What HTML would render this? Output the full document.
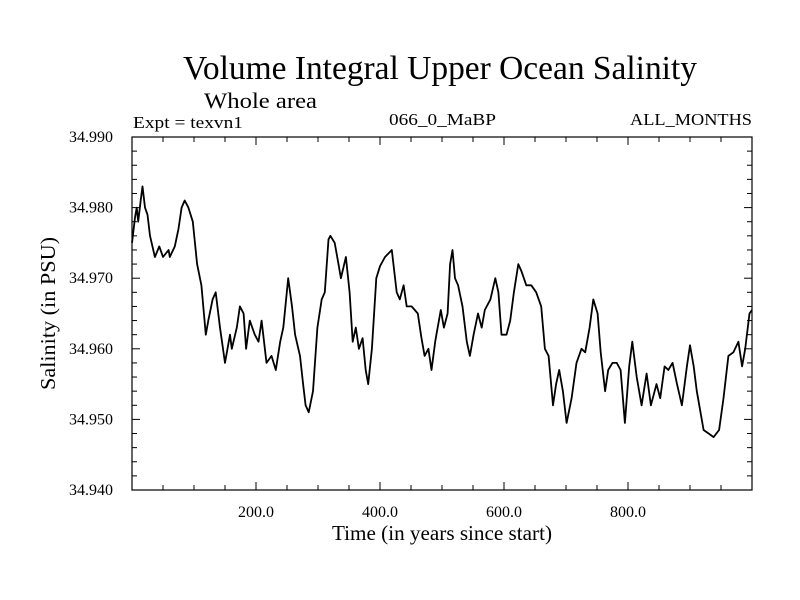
<!DOCTYPE html>
<html><head><meta charset="utf-8"><style>
html,body{margin:0;padding:0;background:#fff;}
svg{display:block;font-family:"Liberation Serif",serif;}
</style></head><body>
<svg id="chart" width="800" height="600" xmlns="http://www.w3.org/2000/svg">
<rect width="800" height="600" fill="#fff"/>
<text x="183" y="79" font-size="34" textLength="514" lengthAdjust="spacingAndGlyphs">Volume Integral Upper Ocean Salinity</text>
<text x="204" y="108" font-size="22" textLength="113" lengthAdjust="spacingAndGlyphs">Whole area</text>
<text x="133" y="128" font-size="17" textLength="110" lengthAdjust="spacingAndGlyphs">Expt = texvn1</text>
<text x="389" y="125" font-size="17" textLength="107" lengthAdjust="spacingAndGlyphs">066_0_MaBP</text>
<text x="630" y="125" font-size="17" textLength="122" lengthAdjust="spacingAndGlyphs">ALL_MONTHS</text>
<text x="332" y="540" font-size="21" textLength="220" lengthAdjust="spacingAndGlyphs">Time (in years since start)</text>
<text transform="translate(55,390) rotate(-90)" font-size="21" textLength="153" lengthAdjust="spacingAndGlyphs">Salinity (in PSU)</text>
<g id="axes"></g>
<g id="series"></g>
</svg>
<script>
const years=[0,5,7.5,10,14,17,21,25,29,37,44,50,59,61,69,75,80,85,91,98,105,112,119,123,130,135,142,150,158,161,169,174,180,184,190,198,204,209,217,225,232,239,244,252,258,263,271,276,280,285,292,299,306,311,317,320,327,333,337,345,351,356,361,366,372,377,381,387,394,400,408,419,427,432,438,443,451,461,467,472,478,483,489,491,498,503,509,513,517,521,526,533,540,545,551,558,564,569,578,586,591,596,604,610,616,623,628,636,644,652,660,666,672,679,684,689,695,701,709,717,725,731,738,744,751,756,763,768,775,782,788,795,802,807,814,822,830,837,846,852,859,865,872,879,887,895,900,906,911,917,922,930,938,947,954,962,970,978,984,989,996,1000];
const salinity=[34.975,34.9787,34.980,34.978,34.981,34.983,34.980,34.979,34.976,34.973,34.9745,34.973,34.974,34.973,34.9745,34.977,34.980,34.981,34.980,34.978,34.972,34.969,34.962,34.964,34.967,34.968,34.963,34.958,34.962,34.960,34.963,34.966,34.965,34.960,34.964,34.962,34.961,34.964,34.958,34.959,34.957,34.961,34.963,34.970,34.966,34.962,34.959,34.955,34.952,34.951,34.954,34.963,34.967,34.968,34.9755,34.976,34.975,34.972,34.970,34.973,34.968,34.961,34.963,34.960,34.9615,34.957,34.955,34.960,34.970,34.9717,34.973,34.974,34.968,34.967,34.969,34.966,34.966,34.965,34.9615,34.959,34.960,34.957,34.961,34.962,34.9655,34.963,34.965,34.972,34.974,34.970,34.969,34.966,34.961,34.959,34.962,34.965,34.963,34.9655,34.967,34.970,34.968,34.962,34.962,34.964,34.968,34.972,34.971,34.969,34.969,34.968,34.966,34.960,34.959,34.952,34.955,34.957,34.954,34.9495,34.953,34.958,34.960,34.9595,34.963,34.967,34.965,34.9595,34.954,34.957,34.958,34.958,34.957,34.9495,34.9575,34.961,34.956,34.952,34.9565,34.952,34.955,34.953,34.9575,34.957,34.958,34.955,34.952,34.9575,34.9605,34.9575,34.954,34.951,34.9485,34.948,34.9475,34.9485,34.953,34.959,34.9595,34.961,34.9575,34.960,34.965,34.9655];
const xTickVals=[200,400,600,800];
const xTickLabels=["200.0","400.0","600.0","800.0"];
const yTickVals=[34.94,34.95,34.96,34.97,34.98,34.99];
const yTickLabels=["34.940","34.950","34.960","34.970","34.980","34.990"];
const X0=132,X1=752,Y0=137,Y1=490;
const xMin=0,xMax=1000,yMin=34.94,yMax=34.99;
const sx=v=>X0+(v-xMin)/(xMax-xMin)*(X1-X0);
const sy=v=>Y1-(v-yMin)/(yMax-yMin)*(Y1-Y0);
const NS="http://www.w3.org/2000/svg";
const axes=document.getElementById('axes');
function mk(tag,attrs,parent){const e=document.createElementNS(NS,tag);for(const k in attrs)e.setAttribute(k,attrs[k]);parent.appendChild(e);return e;}
const frame=mk('rect',{x:X0,y:Y0,width:X1-X0,height:Y1-Y0,fill:'none',stroke:'#000','stroke-width':1.2},axes);


for(let v=50;v<1000;v+=50){
  const len=(v%200===0)?8:5;
  const t1=mk('line',{x1:sx(v),x2:sx(v),y1:Y1,y2:Y1-len,stroke:'#000','stroke-width':1},axes);
  
  
  const t2=mk('line',{x1:sx(v),x2:sx(v),y1:Y0,y2:Y0+len,stroke:'#000','stroke-width':1},axes);
  
  
}
for(let i=1;i<25;i++){
  const v=yMin+i*0.002;
  const len=(i%5===0)?8:5;
  const t1=mk('line',{x1:X0,x2:X0+len,y1:sy(v),y2:sy(v),stroke:'#000','stroke-width':1},axes);
  
  
  const t2=mk('line',{x1:X1,x2:X1-len,y1:sy(v),y2:sy(v),stroke:'#000','stroke-width':1},axes);
  
  
}
xTickVals.forEach((v,i)=>{
  const t=mk('text',{x:sx(v),y:517,'font-size':16,'text-anchor':'middle'},axes);
  t.textContent=xTickLabels[i];
  
  
});
yTickVals.forEach((v,i)=>{
  const t=mk('text',{x:113,y:sy(v)+5,'font-size':16,'text-anchor':'end'},axes);
  t.textContent=yTickLabels[i];
  
  
});
const d=years.map((y,i)=>(i?'L':'M')+sx(y).toFixed(1)+' '+sy(salinity[i]).toFixed(1)).join(' ');
const line=mk('path',{d:d,fill:'none',stroke:'#000','stroke-width':1.8,'stroke-linejoin':'round'},document.getElementById('series'));


</script>
</body></html>
